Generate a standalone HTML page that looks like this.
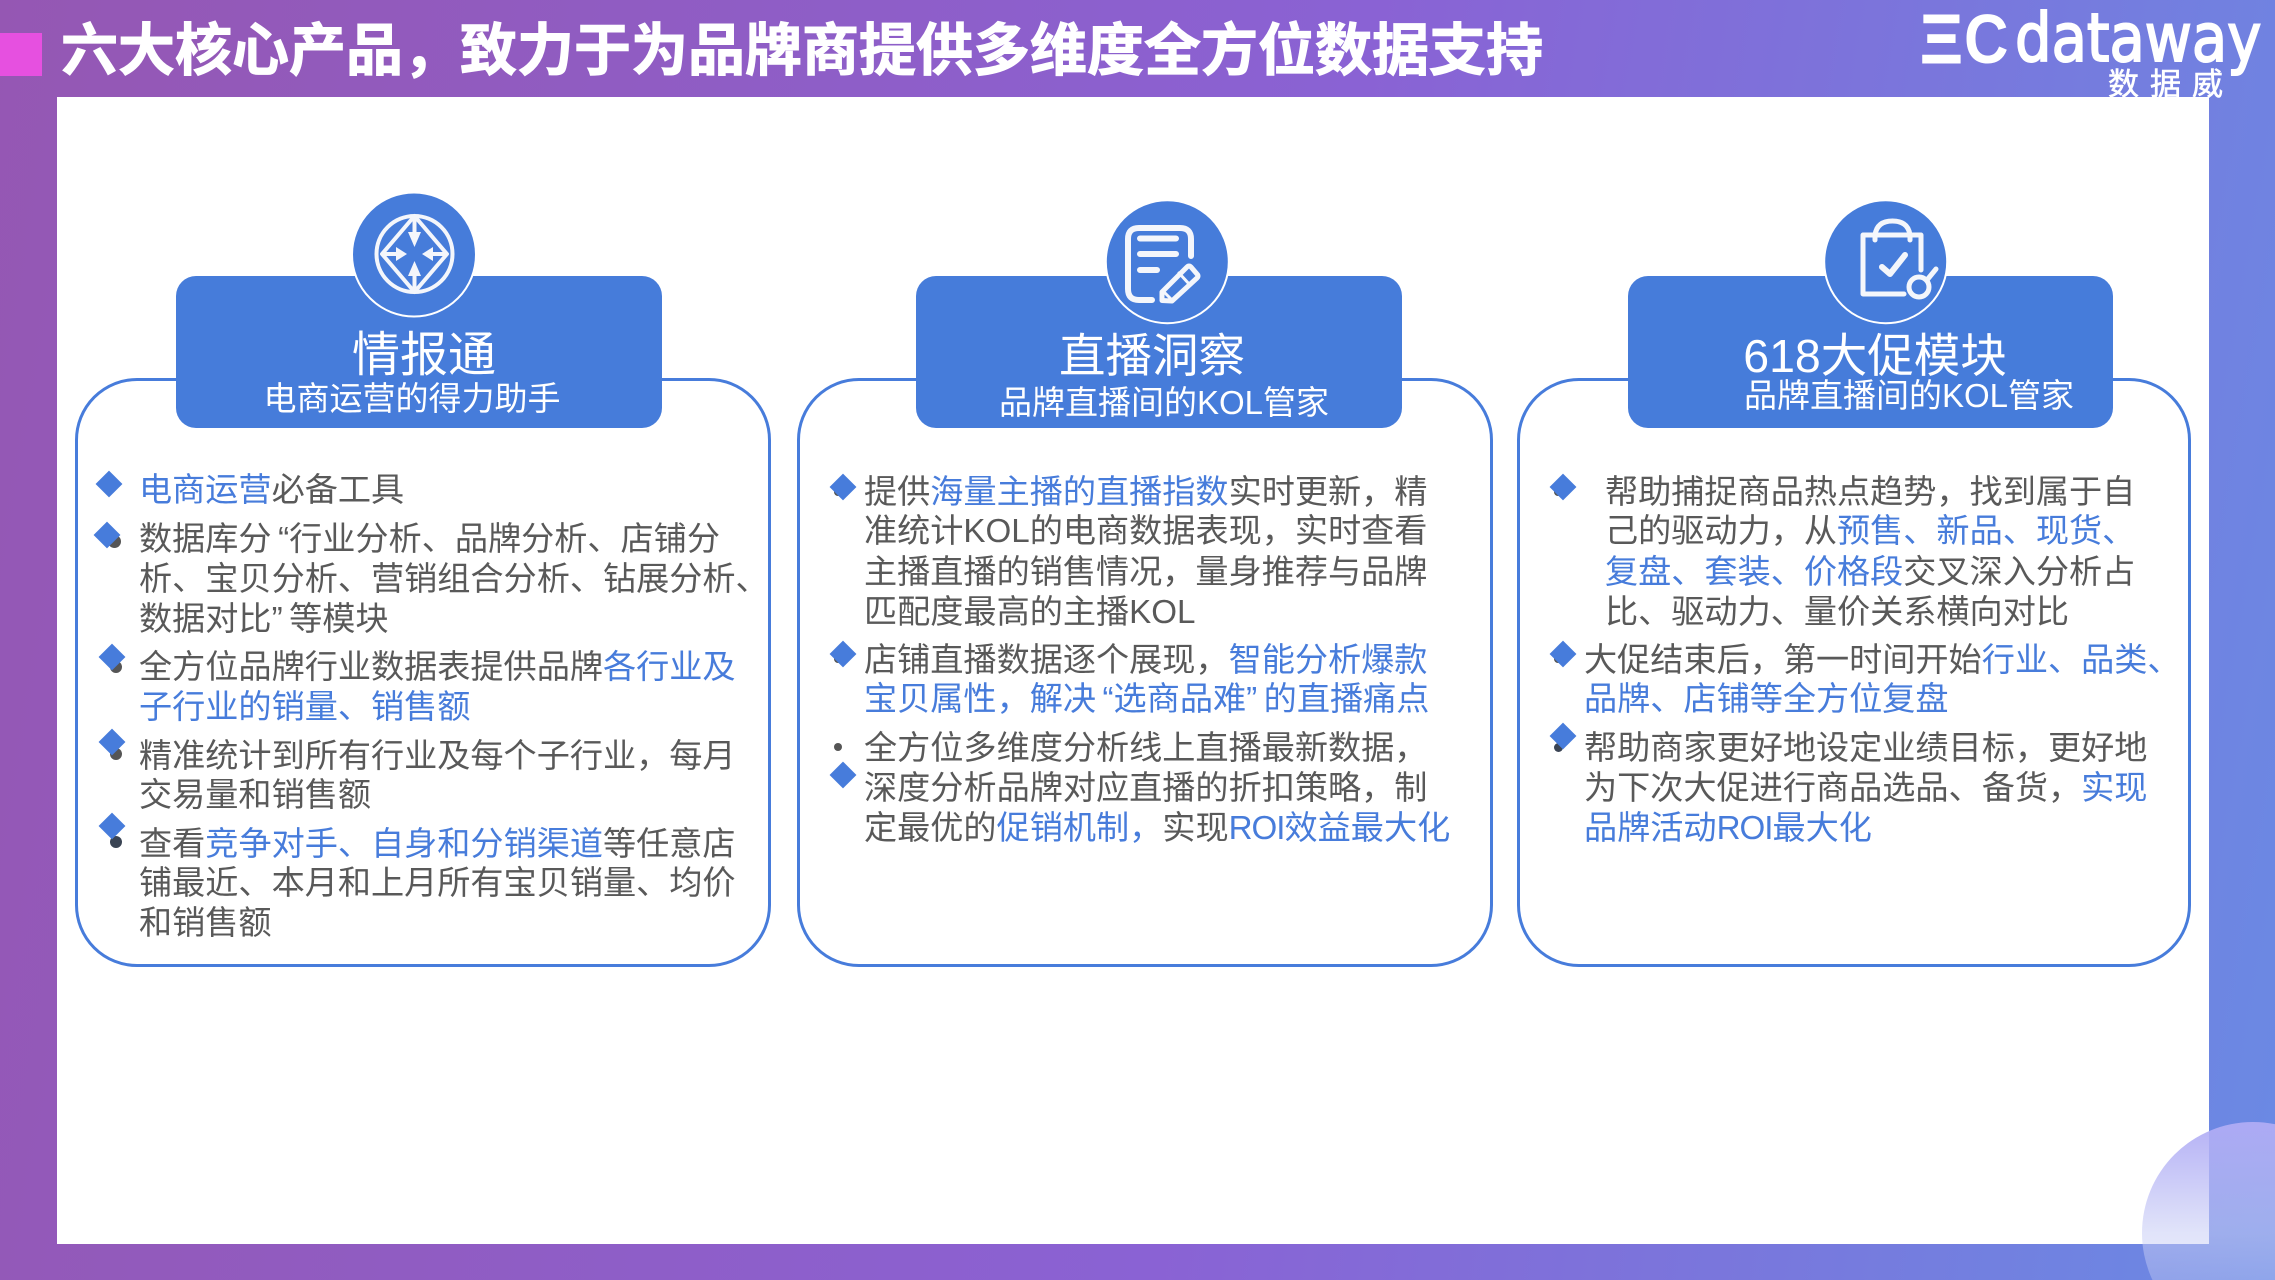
<!DOCTYPE html>
<html lang="zh">
<head>
<meta charset="utf-8">
<title>六大核心产品</title>
<style>
html,body{margin:0;padding:0;width:2275px;height:1280px;overflow:hidden}
body{position:relative;font-family:"Liberation Sans","Noto Sans CJK SC",sans-serif}
#page{position:absolute;left:0;top:0;width:2275px;height:1280px;overflow:hidden;
background:linear-gradient(100deg,#9557b3 0%,#8a62d4 55%,#6a8ae4 100%)}
.abs{position:absolute}
.panel{position:absolute;left:57px;top:97px;width:2152px;height:1147px;background:#fff}
.card{position:absolute;top:378px;height:589px;box-sizing:border-box;border:3px solid #477cdb;border-radius:62px;background:#fff}
.head{position:absolute;top:276px;height:152px;background:#467cda;border-radius:20px}
.l{position:absolute;height:40px;line-height:40px;font-size:33.15px;color:#595959;white-space:nowrap;margin-top:3px}
.b{color:#477cdb}
.qo{margin-left:6.5px}
.qc{margin-right:6.5px}
.r{letter-spacing:-1px}
.t{position:absolute;color:#fff;white-space:nowrap;transform:translateX(-50%);text-align:center}
.t1{font-size:48px;line-height:60px;height:60px;top:326px}
.t1b{font-size:46.5px}
.t2{font-size:33px;line-height:40px;height:40px;margin-top:3px}
.dot{position:absolute;border-radius:50%;background:#555}
.dia{position:absolute;width:19px;height:19px;background:#477cdb;transform:translate(-50%,-50%) rotate(45deg)}
svg{position:absolute;left:0;top:0}
</style>
</head>
<body>
<div id="page">
<div class="abs" style="left:61px;top:13px;font-size:57px;line-height:76px;font-weight:bold;color:#fff;white-space:nowrap;-webkit-text-stroke:1px #fff">六大核心产品，致力于为品牌商提供多维度全方位数据支持</div>
<div class="abs" style="left:0;top:33px;width:42px;height:43px;background:#e650e0"></div>

<!-- logo -->
<div class="abs" style="left:1920px;top:-1px;font-size:70px;line-height:80px;font-weight:bold;color:#fff;-webkit-text-stroke:1px #fff;transform-origin:0 0;transform:scaleX(.95)">Ξ</div>
<div class="abs" style="left:1964px;top:-1px;font-size:70px;line-height:80px;font-weight:bold;color:#fff;transform-origin:0 0;transform:scaleX(.88)">C</div>
<div class="abs" style="left:2015px;top:-2px;font-family:'DejaVu Sans',sans-serif;font-size:67px;line-height:80px;color:#fff;-webkit-text-stroke:2px #fff;transform-origin:0 0;transform:scaleX(.86);white-space:nowrap">dataway</div>
<div class="abs" style="left:2108px;top:65px;font-size:31px;line-height:40px;letter-spacing:11px;color:#fff;white-space:nowrap;-webkit-text-stroke:.6px #fff">数据威</div>

<div class="panel"></div>
<div class="abs" style="left:2142px;top:1122px;width:222px;height:222px;border-radius:50%;background:linear-gradient(180deg,rgba(176,172,245,.95) 0%,rgba(200,205,245,.55) 50%,rgba(225,232,250,.15) 100%)"></div>

<div class="card" style="left:75px;width:696px"></div>
<div class="card" style="left:797px;width:696px"></div>
<div class="card" style="left:1517px;width:674px"></div>

<div class="head" style="left:176px;width:486px"></div>
<div class="head" style="left:916px;width:486px"></div>
<div class="head" style="left:1628px;width:485px"></div>

<svg width="2275" height="1280" viewBox="0 0 2275 1280" fill="none">
  <circle cx="414" cy="254.5" r="62" fill="#467cda" stroke="#fff" stroke-width="2"/>
  <g stroke="#f4f6fb" stroke-width="4" stroke-linejoin="round">
    <circle cx="414.5" cy="254" r="38"/>
    <path d="M414.5 216 L447 254 L414.500 292 L382 254 Z"/>
    <path d="M414.5 218V236M414.5 290V272M384 254H400M445 254H429"/>
  </g>
  <g fill="#f4f6fb">
    <path d="M408 232H421L414.5 247Z"/><path d="M408 276H421L414.5 261Z"/>
    <path d="M396 247V261L407 254Z"/><path d="M433 247V261L422 254Z"/>
  </g>

  <circle cx="1167.3" cy="261.7" r="61.5" fill="#467cda" stroke="#fff" stroke-width="2"/>
  <g stroke="#f4f6fb" stroke-width="6" stroke-linecap="round" stroke-linejoin="round">
    <path d="M1191 256V239Q1191 228 1180 228H1139Q1128 228 1128 239V289Q1128 300 1139 300H1152"/>
    <path d="M1140 238.500H1176M1140 254H1176M1140 270H1157"/>
    <path d="M1162 300.500V292L1187 267Q1189 265 1191 267L1197 274Q1199 276 1197 278L1172 301Z" stroke-width="5"/>
    <path d="M1179 273L1190 285M1163 291L1172 300" stroke-width="3"/>
  </g>

  <circle cx="1885.7" cy="261.700" r="61.500" fill="#467cda" stroke="#fff" stroke-width="2"/>
  <g stroke="#f4f6fb" stroke-width="5" stroke-linecap="round" stroke-linejoin="round">
    <path d="M1921 270V235H1863V294H1904"/>
    <path d="M1875 240V235Q1877 221 1892.500 221Q1908 221 1910 235V240"/>
    <path d="M1882 267L1890 274L1905 255" stroke-width="6"/>
    <circle cx="1919" cy="287" r="10"/>
    <path d="M1927 280L1936 269"/>
  </g>
</svg>

<div class="t t1" style="left:424px">情报通</div>
<div class="t t2" style="left:412px;top:376px">电商运营的得力助手</div>
<div class="t t1 t1b" style="left:1152px">直播洞察</div>
<div class="t t2" style="left:1164px;top:380px">品牌直播间的KOL管家</div>
<div class="t t1 t1b" style="left:1875px">618大促模块</div>
<div class="t t2" style="left:1909px;top:373px">品牌直播间的KOL管家</div>

<!-- dots -->
<div class="dot" style="left:108px;top:535px;width:13px;height:13px"></div>
<div class="dot" style="left:110px;top:661px;width:12px;height:12px"></div>
<div class="dot" style="left:110px;top:748px;width:12px;height:12px"></div>
<div class="dot" style="left:110px;top:836px;width:12px;height:12px;background:#3a4454"></div>
<div class="dot" style="left:834px;top:743px;width:8px;height:8px"></div>
<div class="dot" style="left:834px;top:488px;width:8px;height:8px"></div>
<div class="dot" style="left:834px;top:655px;width:8px;height:8px"></div>
<div class="dot" style="left:1554px;top:488px;width:8px;height:8px"></div>
<div class="dot" style="left:1554px;top:655px;width:8px;height:8px"></div>
<div class="dot" style="left:1554px;top:743px;width:9px;height:9px;background:#3a4454"></div>

<!-- diamonds -->
<div class="dia" style="left:109px;top:484px"></div>
<div class="dia" style="left:107px;top:535px"></div>
<div class="dia" style="left:112px;top:657px"></div>
<div class="dia" style="left:112px;top:742px"></div>
<div class="dia" style="left:112px;top:826px"></div>
<div class="dia" style="left:843px;top:487px"></div>
<div class="dia" style="left:843px;top:654px"></div>
<div class="dia" style="left:843px;top:775px"></div>
<div class="dia" style="left:1563px;top:487px"></div>
<div class="dia" style="left:1563px;top:654px"></div>
<div class="dia" style="left:1563px;top:736px"></div>

<!-- card 1 -->
<div class="l" style="left:139px;top:468px"><span class="b">电商运营</span>必备工具</div>
<div class="l" style="left:139px;top:517px">数据库分<span class="qo">“</span>行业分析、品牌分析、店铺分</div>
<div class="l" style="left:139px;top:557px">析、宝贝分析、营销组合分析、钻展分析、</div>
<div class="l" style="left:139px;top:597px">数据对比<span class="qc">”</span>等模块</div>
<div class="l" style="left:139px;top:645px">全方位品牌行业数据表提供品牌<span class="b">各行业及</span></div>
<div class="l" style="left:139px;top:685px"><span class="b">子行业的销量、销售额</span></div>
<div class="l" style="left:139px;top:734px">精准统计到所有行业及每个子行业，每月</div>
<div class="l" style="left:139px;top:773px">交易量和销售额</div>
<div class="l" style="left:139px;top:822px">查看<span class="b">竞争对手、自身和分销渠道</span>等任意店</div>
<div class="l" style="left:139px;top:861px">铺最近、本月和上月所有宝贝销量、均价</div>
<div class="l" style="left:139px;top:901px">和销售额</div>

<!-- card 2 -->
<div class="l" style="left:864px;top:470px">提供<span class="b">海量主播的直播指数</span>实时更新，精</div>
<div class="l" style="left:864px;top:509px">准统计KOL的电商数据表现，实时查看</div>
<div class="l" style="left:864px;top:550px">主播直播的销售情况，量身推荐与品牌</div>
<div class="l" style="left:864px;top:590px">匹配度最高的主播KOL</div>
<div class="l" style="left:864px;top:638px">店铺直播数据逐个展现，<span class="b">智能分析爆款</span></div>
<div class="l" style="left:864px;top:677px"><span class="b">宝贝属性，解决<span class="qo">“</span>选商品难<span class="qc">”</span>的直播痛点</span></div>
<div class="l" style="left:864px;top:726px">全方位多维度分析线上直播最新数据，</div>
<div class="l" style="left:864px;top:766px">深度分析品牌对应直播的折扣策略，制</div>
<div class="l" style="left:864px;top:806px">定最优的<span class="b">促销机制，</span>实现<span class="b"><span class="r">ROI</span>效益最大化</span></div>

<!-- card 3 -->
<div class="l" style="left:1605px;top:470px">帮助捕捉商品热点趋势，找到属于自</div>
<div class="l" style="left:1605px;top:509px">己的驱动力，从<span class="b">预售、新品、现货、</span></div>
<div class="l" style="left:1605px;top:550px"><span class="b">复盘、套装、价格段</span>交叉深入分析占</div>
<div class="l" style="left:1605px;top:590px">比、驱动力、量价关系横向对比</div>
<div class="l" style="left:1584px;top:638px">大促结束后，第一时间开始<span class="b">行业、品类、</span></div>
<div class="l" style="left:1584px;top:677px"><span class="b">品牌、店铺等全方位复盘</span></div>
<div class="l" style="left:1584px;top:726px">帮助商家更好地设定业绩目标，更好地</div>
<div class="l" style="left:1584px;top:766px">为下次大促进行商品选品、备货，<span class="b">实现</span></div>
<div class="l" style="left:1584px;top:806px"><span class="b">品牌活动<span class="r">ROI</span>最大化</span></div>
</div>
</body>
</html>
